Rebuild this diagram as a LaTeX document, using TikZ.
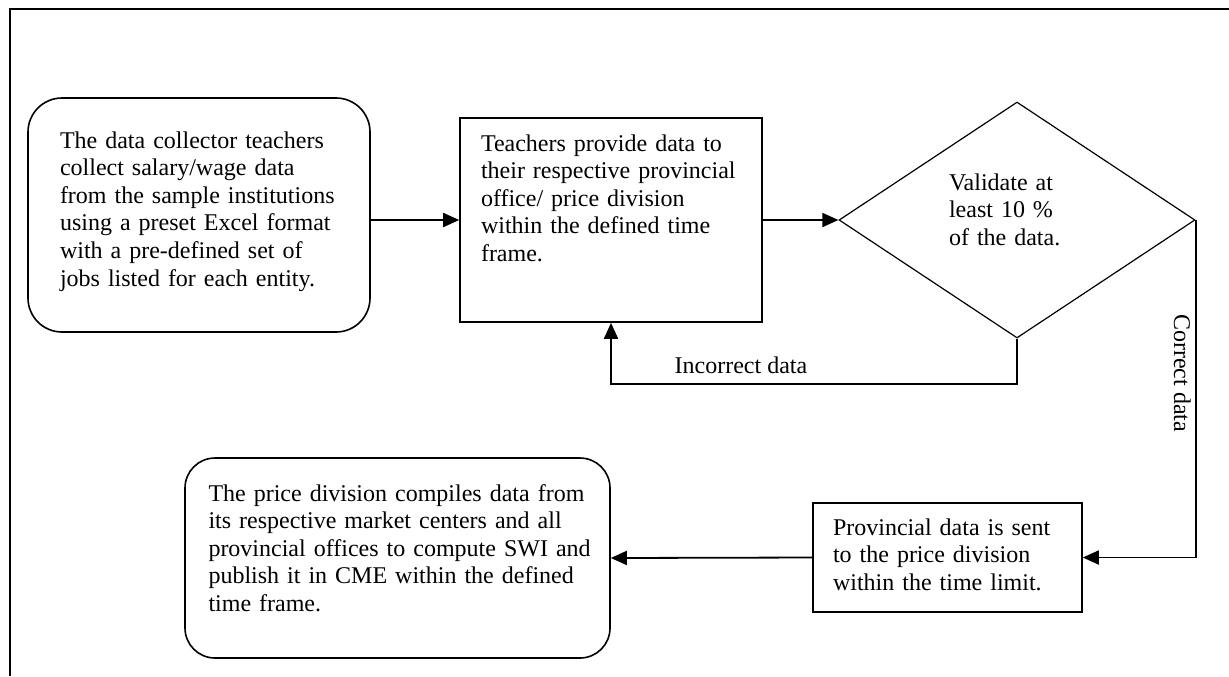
\documentclass[tikz,border=0pt]{standalone}
\usepackage{fontspec}
\setmainfont{Liberation Serif}
\usetikzlibrary{arrows.meta,positioning,shapes.geometric}

\begin{document}
\begin{tikzpicture}[x=0.5pt,y=-0.5pt,
    every node/.style={font=\fontsize{12pt}{13.8pt}\selectfont},
    roundbox/.style={draw,line width=0.8pt,rounded corners=#1,align=left,inner sep=0pt},
    procbox/.style={draw,line width=0.8pt,align=left,inner sep=0pt},
    check/.style={draw,diamond,line width=0.6pt,align=left,inner sep=0pt,
      minimum width=178pt,minimum height=118pt},
    flow/.style={line width=0.9pt,-{Triangle[length=8pt,width=7pt]}}]
  \useasboundingbox (0,0) rectangle (1229,676);
  \draw[line width=0.9pt] (10,676) -- (10,9) -- (1229,9);

  % top row
  \node[roundbox=17pt,minimum width=171pt,text width=139pt,text height=25pt,text depth=92pt]
    (collect) at (199,215) {The data collector teachers\\collect salary/wage data\\from the sample institutions\\using a preset Excel format\\with a pre-defined set of\\jobs listed for each entity.};
  \node[procbox,minimum width=151pt,text width=130pt,text height=16.5pt,text depth=85.5pt]
    (provide) at (611,220) {Teachers provide data to\\their respective provincial\\office/ price division\\within the defined time\\frame.};
  \node[check,text width=68pt,text height=9pt,text depth=39pt]
    (validate) at (1017,220) {Validate at\\least 10 \%\\of the data.};

  % bottom row
  \node[procbox,minimum width=134.5pt,text width=114.5pt,text height=16pt,text depth=38.5pt]
    (send) at (947.5,557.5) {Provincial data is sent\\to the price division\\within the time limit.};
  \node[roundbox=15pt,minimum width=212.5pt,text width=189pt,text height=21.5pt,text depth=78.5pt]
    (compile) at (397.5,558) {The price division compiles data from\\its respective market centers and all\\\mbox{provincial offices to compute SWI and}\\publish it in CME within the defined\\time frame.};

  \draw[flow] (collect.east |- provide.west) -- (provide.west);
  \draw[flow] (provide.east) -- (validate.west);
  \draw[flow] (validate.south) -- ++(0,45) -| node[pos=0.34,above=1pt] (wrong) {Incorrect data} (provide.south);
  \draw[flow] (validate.east) |- node[pos=0.227,rotate=-90,anchor=north,inner sep=2pt] (right) {Correct data} (send.east);
  \draw[flow] (send.west) -- (compile.east);
\end{tikzpicture}
\end{document}
